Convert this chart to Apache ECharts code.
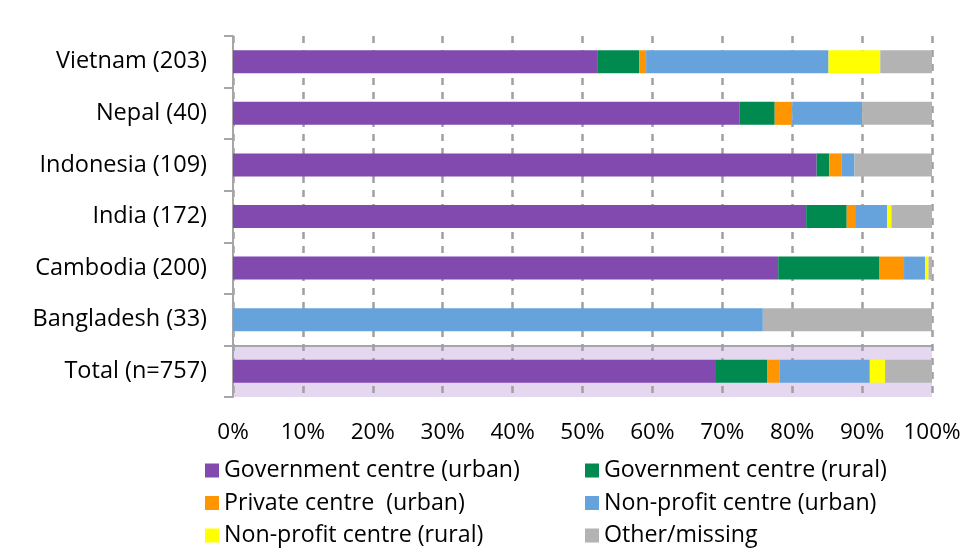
<!DOCTYPE html>
<html>
<head>
<meta charset="utf-8">
<script src="https://cdn.jsdelivr.net/npm/echarts@6/dist/echarts.min.js"></script>
<style>html,body{margin:0;padding:0;background:#fff;}#c{width:974px;height:551px;}</style>
</head>
<body>
<div id="c"></div>
<script>
// Categories, top to bottom as shown
const categories = ['Vietnam (203)', 'Nepal (40)', 'Indonesia (109)', 'India (172)', 'Cambodia (200)', 'Bangladesh (33)', 'Total (n=757)'];
const xTicks = [0, 10, 20, 30, 40, 50, 60, 70, 80, 90, 100];
// Shares in % per category (same order as categories)
const govUrban      = [52.2, 72.5, 83.5, 82.0, 78.0, 0,    69.1];
const govRural      = [5.9,  5.0,  1.8,  5.8,  14.5, 0,    7.3];
const privateUrban  = [1.0,  2.5,  1.8,  1.2,  3.5,  0,    1.8];
const nonprofitUrban= [26.1, 10.0, 1.8,  4.6,  3.0,  75.8, 12.9];
const nonprofitRural= [7.4,  0,    0,    0.6,  0.5,  0,    2.2];
const otherMissing  = [7.4,  10.0, 11.1, 5.8,  0.5,  24.2, 6.7];

const seriesDefs = [
  {name: 'Government centre (urban)', data: govUrban, color: '#8249AE'},
  {name: 'Government centre (rural)', data: govRural, color: '#008A50'},
  {name: 'Private centre  (urban)', data: privateUrban, color: '#FF9500'},
  {name: 'Non-profit centre (urban)', data: nonprofitUrban, color: '#66A3DC'},
  {name: 'Non-profit centre (rural)', data: nonprofitRural, color: '#FFFF00'},
  {name: 'Other/missing', data: otherMissing, color: '#B3B3B3'}
];

const FONT = '"Open Sans", sans-serif';
const yCats = categories.slice().reverse();
const n = yCats.length;
// splitArea: band 0 (bottom = Total) is lavender
const areaColors = yCats.map((c, i) => i === 0 ? '#E6D7F1' : 'rgba(0,0,0,0)');
// splitLine: only the line between Total and Bangladesh
const lineColors = [];
for (let i = 0; i <= n; i++) lineColors.push(i === 1 ? '#A6A6A6' : 'rgba(0,0,0,0)');

const chart = echarts.init(document.getElementById('c'), null, {renderer: 'canvas'});
const legendCommon = {
  orient: 'vertical', itemWidth: 14, itemHeight: 14, itemGap: 9.5, icon: 'rect',
  height: 110,
  textStyle: {fontFamily: FONT, fontSize: 23.2, color: '#000', lineHeight: 22}
};
chart.setOption({
  animation: false,
  backgroundColor: '#fff',
  grid: {left: 233, right: 42, top: 36, bottom: 154, containLabel: false},
  xAxis: {
    type: 'value', min: 0, max: 100, interval: 10,
    axisLine: {show: false}, axisTick: {show: false},
    axisLabel: {formatter: v => v + '%', fontFamily: FONT, fontSize: 22.5, color: '#000', margin: 24},
    splitLine: {show: true, lineStyle: {color: '#A0A0A0', width: 2.5, type: [7, 7]}}
  },
  yAxis: {
    type: 'category', data: yCats,
    axisLine: {show: true, lineStyle: {color: '#A6A6A6', width: 2}},
    axisTick: {show: true, length: 9, lineStyle: {color: '#A6A6A6', width: 2}},
    axisLabel: {fontFamily: FONT, fontSize: 23.5, color: '#000', margin: 26},
    splitArea: {show: true, areaStyle: {color: areaColors}},
    splitLine: {show: true, lineStyle: {color: lineColors, width: 2}}
  },
  legend: [
    Object.assign({left: 200, top: 454, data: [seriesDefs[0].name, seriesDefs[2].name, seriesDefs[4].name]}, legendCommon),
    Object.assign({left: 580, top: 454, data: [seriesDefs[1].name, seriesDefs[3].name, seriesDefs[5].name]}, legendCommon)
  ],
  series: seriesDefs.map(s => ({
    name: s.name, type: 'bar', stack: 'all', barWidth: 23,
    itemStyle: {color: s.color},
    data: s.data.slice().reverse()
  }))
});
</script>
</body>
</html>
